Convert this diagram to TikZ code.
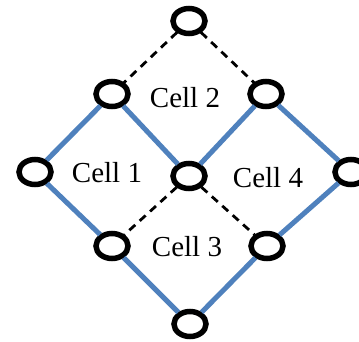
\documentclass[tikz,border=0pt]{standalone}
\usepackage{fontspec}
\setmainfont{Liberation Serif}
\usetikzlibrary{shapes.geometric}
\definecolor{edgeblue}{RGB}{79,129,189}
\begin{document}
\begin{tikzpicture}[x=1pt,y=-1pt,
  vtx/.style={ellipse,draw=black,fill=white,line width=5.5pt,minimum width=32pt,minimum height=25pt,inner sep=0pt,outer sep=2.5pt},
  solidedge/.style={draw=edgeblue,line width=5pt},
  dashedge/.style={draw=black,line width=2.8pt,dash pattern=on 8pt off 6pt},
  lbl/.style={font=\fontsize{29}{31}\selectfont,inner sep=0pt}]
\useasboundingbox (0,0) rectangle (359,341);
% lattice vertices
\node[vtx] (t)  at (189,21) {};
\node[vtx] (ul) at (112,94) {};
\node[vtx] (ur) at (266,94) {};
\node[vtx] (l)  at (35,172) {};
\node[vtx] (c)  at (189,176) {};
\node[vtx] (r)  at (351,172) {};
\node[vtx] (ll) at (112,246) {};
\node[vtx] (lr) at (267,246) {};
\node[vtx] (b)  at (190,324) {};
% edges between vertices
\path[solidedge] (l) -- (ul) (ul) -- (c) (c) -- (ur) (ur) -- (r)
  (l) -- (ll) (ll) -- (b) (b) -- (lr) (lr) -- (r);
\path[dashedge] (t) -- (ul) (t) -- (ur) (c) -- (ll) (c) -- (lr);
% cell labels
\node[lbl] (cell2) at (185,98) {Cell 2};
\node[lbl] (cell1) at (107,173) {Cell 1};
\node[lbl] (cell4) at (268,178) {Cell 4};
\node[lbl] (cell3) at (187,247) {Cell 3};
\end{tikzpicture}
\end{document}
